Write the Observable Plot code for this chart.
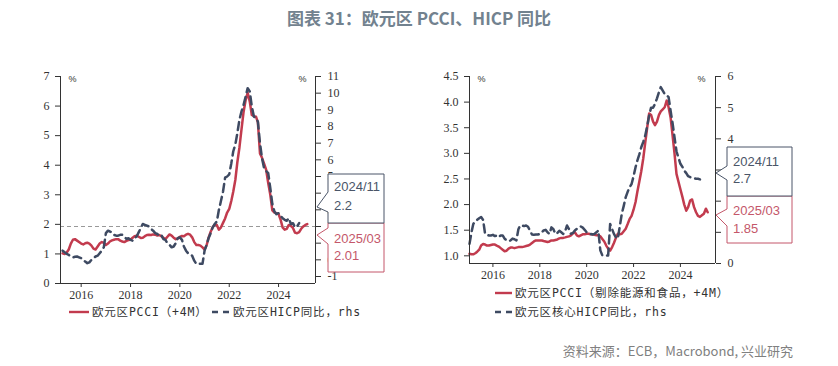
<!DOCTYPE html>
<html><head><meta charset="utf-8">
<script src="https://cdn.jsdelivr.net/npm/d3@7"></script>
<script src="https://cdn.jsdelivr.net/npm/@observablehq/plot@0.6"></script>
<style>
body{margin:0;background:#fff;}
#wrap{position:relative;width:838px;height:366px;overflow:hidden;background:#fff;}
#title{position:absolute;left:0;top:6px;width:838px;text-align:center;font-family:"Noto Sans CJK SC";font-weight:700;font-size:17px;color:#72828f;line-height:24px;}
.chart{position:absolute;top:50px;}
.lg{position:absolute;font-family:"DejaVu Sans Mono","Noto Sans CJK SC";font-size:11.5px;letter-spacing:0.8px;color:#333;white-space:nowrap;line-height:16px;display:flex;align-items:center;}
.lg svg{margin-right:3px;}
#source{position:absolute;right:45px;top:341px;font-family:"Noto Sans CJK SC";font-size:13px;color:#808080;line-height:20px;}
</style></head>
<body>
<div id="wrap">
  <div id="title">图表 31：欧元区 PCCI、HICP 同比</div>
  <div id="c1" class="chart" style="left:0px"></div>
  <div id="c2" class="chart" style="left:410px"></div>
  <div id="source">资料来源：ECB，Macrobond, 兴业研究</div>
</div>
<script>
// ---------- DATA ----------
// Left chart: Euro area PCCI (+4M), monthly from 2015-04 (left axis, %)
const pcciStart = [2015, 4];
const pcci = [
  1.02,1.00,1.05,1.15,1.35,1.48,1.50,1.45,1.40,
  1.35,1.32,1.36,1.38,1.35,1.28,1.18,1.15,1.25,1.35,1.40,1.38,
  1.30,1.35,1.42,1.46,1.48,1.50,1.50,1.45,1.42,1.40,1.44,1.47,
  1.48,1.55,1.60,1.62,1.58,1.54,1.55,1.60,1.64,1.65,1.64,1.66,
  1.65,1.62,1.64,1.60,1.55,1.50,1.58,1.66,1.62,1.55,1.50,1.52,
  1.58,1.61,1.60,1.65,1.68,1.65,1.56,1.40,1.30,1.30,1.28,1.22,
  1.15,1.30,1.55,1.75,1.90,2.00,1.98,1.82,1.90,2.05,2.20,2.40,
  2.52,2.80,3.10,3.50,4.10,4.60,5.20,5.80,6.20,6.45,6.15,5.70,
  5.66,5.64,5.45,4.40,4.25,4.05,3.85,3.40,3.00,2.47,2.40,2.38,
  2.35,2.15,1.90,1.82,1.85,1.98,1.95,1.88,1.72,1.70,1.74,1.85,
  1.93,1.98,2.01
];
// Left chart: Euro area HICP yoy, monthly from 2015-04 (right axis, %)
const hicpStart = [2015, 4];
const hicp = [
  0.55,0.45,0.36,0.30,0.20,0.15,0.18,0.20,0.15,
  0.10,-0.04,-0.10,-0.20,-0.15,0.00,0.09,0.20,0.25,0.40,0.55,0.75,
  1.60,1.75,1.70,1.65,1.50,1.45,1.45,1.50,1.50,1.40,1.25,1.30,
  1.20,1.15,1.30,1.40,1.65,1.90,2.15,2.10,2.05,2.00,1.85,1.75,
  1.60,1.55,1.45,1.50,1.25,1.20,1.00,0.90,0.75,0.80,1.00,1.30,
  1.35,1.20,0.80,0.55,0.40,0.30,0.25,-0.05,-0.24,-0.24,-0.24,-0.24,
  0.55,0.90,1.30,1.60,1.95,2.15,2.30,3.00,3.54,4.10,4.93,5.00,
  5.13,5.80,6.50,6.92,7.60,8.41,8.90,9.30,9.80,10.30,10.10,9.20,
  8.60,8.50,8.30,7.00,6.10,5.50,5.33,5.20,4.30,3.34,2.90,2.74,
  2.80,2.64,2.50,2.40,2.34,2.50,2.15,2.20,1.95,2.00,2.20
];
// Right chart: Euro area core PCCI (ex energy & food, +4M), monthly from 2015-01 (left axis)
const corePcciStart = [2015, 1];
const corePcci = [
  1.04,1.03,1.03,1.05,1.08,1.12,1.20,1.23,1.22,1.20,1.20,1.21,
  1.22,1.22,1.20,1.18,1.15,1.12,1.09,1.10,1.14,1.16,1.16,1.15,
  1.16,1.17,1.17,1.17,1.18,1.19,1.20,1.22,1.25,1.28,1.30,1.30,
  1.30,1.30,1.29,1.28,1.27,1.28,1.30,1.30,1.31,1.32,1.34,1.35,
  1.35,1.36,1.37,1.38,1.40,1.44,1.46,1.40,1.38,1.40,1.42,1.42,
  1.43,1.43,1.42,1.42,1.41,1.40,1.40,1.38,1.33,1.28,1.20,1.14,
  1.10,1.17,1.25,1.35,1.43,1.42,1.43,1.48,1.53,1.62,1.72,1.78,
  1.90,2.05,2.25,2.45,2.65,2.90,3.20,3.50,3.78,3.75,3.62,3.55,
  3.62,3.75,3.82,3.86,3.90,4.03,3.90,3.70,3.35,3.00,2.60,2.45,
  2.30,2.15,2.00,1.88,1.95,2.08,2.10,1.95,1.85,1.78,1.76,1.79,
  1.82,1.92,1.85
];
// Right chart: Euro area core HICP yoy, monthly from 2015-01 (right axis)
const coreHicpStart = [2015, 1];
const coreHicp = [
  0.63,1.00,1.27,1.35,1.40,1.45,1.49,1.40,0.95,0.92,0.90,0.90,
  0.92,0.88,0.90,0.85,0.90,0.90,0.80,0.74,0.72,0.74,0.80,0.78,
  0.74,1.10,1.22,1.22,1.20,1.22,1.18,1.05,0.93,0.92,0.93,0.93,
  0.95,1.00,1.06,1.08,1.00,0.95,1.16,1.10,0.95,0.98,1.05,1.00,
  0.95,1.05,1.22,1.10,0.95,0.98,1.06,1.11,1.16,1.19,1.15,1.08,
  1.00,0.98,0.95,0.93,0.95,1.00,1.06,0.42,0.26,0.26,0.26,0.26,
  1.27,1.10,0.95,0.84,0.80,1.20,1.59,1.85,2.13,2.30,2.45,2.55,
  2.80,3.09,3.30,3.50,3.73,3.90,4.10,4.40,4.75,5.00,5.00,5.12,
  5.30,5.50,5.66,5.55,5.44,5.40,5.34,4.90,4.50,4.05,3.60,3.40,
  3.20,3.10,2.98,2.90,2.80,2.77,2.75,2.73,2.72,2.72,2.70
];
// Axis ticks
const leftTicks1 = [0,1,2,3,4,5,6,7];
const rightTicks1 = [-1,0,1,2,3,4,5,6,7,8,9,10,11];
const leftTicks2 = [1.0,1.5,2.0,2.5,3.0,3.5,4.0,4.5];
const rightTicks2 = [0,1,2,3,4,5,6];
// Callout labels
const callouts1 = [
  {label: "2025/03", value: "2.01"},
  {label: "2024/11", value: "2.2"}
];
const callouts2 = [
  {label: "2025/03", value: "1.85"},
  {label: "2024/11", value: "2.7"}
];
const legend1 = ["欧元区PCCI（+4M）", "欧元区HICP同比，rhs"];
const legend2 = ["欧元区PCCI（剔除能源和食品，+4M）", "欧元区核心HICP同比，rhs"];

// ---------- HELPERS ----------
const RED = "#c23b4e", NAVY = "#3e4a62", BOX1 = "#4a5568", BOX2 = "#c4576a";
const monthly = (start, vals) => vals.map((v, i) => ({date: new Date(Date.UTC(start[0], start[1] - 1 + i, 1)), v}));

// left chart dual-axis mapping
const toL1 = r => (r + 1.42) * 7 / 12.42;
const fromL1 = v => v * 12.42 / 7 - 1.42;
// right chart dual-axis mapping
const toL2 = r => 0.85 + r * 3.65 / 6;
const fromL2 = v => (v - 0.85) * 6 / 3.65;

const axisStyle = {fontFamily: "Liberation Serif", fontSize: "12px", color: "#333", background: "transparent", overflow: "visible"};

function callout(svg, o, color, lines) {
  const g = d3.select(svg).append("g").attr("text-anchor", "start");
  g.append("path")
    .attr("d", `M${o.x0},${o.y0}H${o.x1}V${o.y1}H${o.x0}V${o.pDown}L${o.tx},${o.ty}L${o.x0},${o.pUp}Z`)
    .attr("fill", "#fff").attr("stroke", color).attr("stroke-width", 1);
  lines.forEach((t, i) => {
    g.append("text").attr("x", o.x0 + 6).attr("y", o.ly[i])
      .attr("text-anchor", "start")
      .attr("dominant-baseline", "middle")
      .attr("font-family", "Liberation Sans").attr("font-size", 13)
      .attr("fill", color).text(t);
  });
}

// ---------- LEFT CHART ----------
{
  const xd = [new Date(Date.UTC(2015, 2, 1)), new Date(Date.UTC(2025, 6, 1))];
  const chart = Plot.plot({
    width: 400, height: 255,
    marginLeft: 60, marginRight: 85, marginTop: 26, marginBottom: 22,
    style: axisStyle,
    x: {type: "utc", domain: xd},
    y: {domain: [0, 7]},
    marks: [
      Plot.ruleY([toL1(2)], {stroke: "#999", strokeDasharray: "4,3", strokeWidth: 1}),
      Plot.lineY(monthly(pcciStart, pcci), {x: "date", y: "v", stroke: RED, strokeWidth: 2.5}),
      Plot.lineY(monthly(hicpStart, hicp), {x: "date", y: d => toL1(d.v), stroke: NAVY, strokeWidth: 2.5, strokeDasharray: "8,5"}),
      Plot.ruleY([0], {stroke: "#333"}),
      Plot.ruleX(xd, {stroke: "#333"}),
      Plot.axisX({ticks: d3.utcYear.every(2), tickFormat: "%Y", tickSize: 4, tickPadding: 3, label: null, fontSize: 12}),
      Plot.axisY({anchor: "left", ticks: leftTicks1, tickFormat: d => String(d), tickSize: 5, tickPadding: 6, label: null, fontSize: 12}),
      Plot.axisY({anchor: "right", ticks: rightTicks1.map(toL1), tickFormat: d => String(Math.round(fromL1(d))), tickSize: 5, tickPadding: 7, label: null, fontSize: 12}),
      Plot.text(["%"], {frameAnchor: "top-left", dx: 8, dy: -1, fontSize: 9, fontFamily: "Liberation Sans", fill: "#333"}),
      Plot.text(["%"], {frameAnchor: "top-right", dx: -9, dy: -1, fontSize: 9, fontFamily: "Liberation Sans", fill: "#333"})
    ]
  });
  document.getElementById("c1").appendChild(chart);
  callout(chart, {x0: 328, x1: 384, y0: 173, y1: 222, tx: 317, ty: 185, pUp: 178, pDown: 194, ly: [190, 207]}, BOX2, [callouts1[0].label, callouts1[0].value]);
  callout(chart, {x0: 328, x1: 384, y0: 124, y1: 173, tx: 317, ty: 157, pUp: 142, pDown: 162, ly: [138, 157]}, BOX1, [callouts1[1].label, callouts1[1].value]);
}

// ---------- RIGHT CHART ----------
{
  const xd = [new Date(Date.UTC(2015, 0, 1)), new Date(Date.UTC(2025, 6, 1))];
  const chart = Plot.plot({
    width: 400, height: 235,
    marginLeft: 59, marginRight: 95, marginTop: 26, marginBottom: 22,
    style: axisStyle,
    x: {type: "utc", domain: xd},
    y: {domain: [0.85, 4.5]},
    marks: [
      Plot.lineY(monthly(corePcciStart, corePcci), {x: "date", y: "v", stroke: RED, strokeWidth: 2.5}),
      Plot.lineY(monthly(coreHicpStart, coreHicp), {x: "date", y: d => toL2(d.v), stroke: NAVY, strokeWidth: 2.5, strokeDasharray: "8,5"}),
      Plot.ruleY([0.85], {stroke: "#333"}),
      Plot.ruleX(xd, {stroke: "#333"}),
      Plot.axisX({ticks: d3.utcYear.every(2), tickFormat: "%Y", tickSize: 4, tickPadding: 3, label: null, fontSize: 12}),
      Plot.axisY({anchor: "left", ticks: leftTicks2, tickFormat: d3.format(".1f"), tickSize: 5, tickPadding: 6, label: null, fontSize: 12}),
      Plot.axisY({anchor: "right", ticks: rightTicks2.map(toL2), tickFormat: d => String(Math.round(fromL2(d))), tickSize: 5, tickPadding: 7, label: null, fontSize: 12}),
      Plot.text(["%"], {frameAnchor: "top-left", dx: 8, dy: -1, fontSize: 9, fontFamily: "Liberation Sans", fill: "#333"}),
      Plot.text(["%"], {frameAnchor: "top-right", dx: -10, dy: -1, fontSize: 9, fontFamily: "Liberation Sans", fill: "#333"})
    ]
  });
  document.getElementById("c2").appendChild(chart);
  callout(chart, {x0: 317, x1: 382, y0: 146, y1: 193, tx: 306, ty: 165, pUp: 159, pDown: 176, ly: [162, 180]}, BOX2, [callouts2[0].label, callouts2[0].value]);
  callout(chart, {x0: 317, x1: 382, y0: 97, y1: 146, tx: 306, ty: 123, pUp: 116, pDown: 130, ly: [113, 130]}, BOX1, [callouts2[1].label, callouts2[1].value]);
}

// ---------- LEGENDS ----------
function legendItem(left, top, text, color, dashed, swW) {
  const div = document.createElement("div");
  div.className = "lg";
  div.style.left = left + "px";
  div.style.top = (top - 8) + "px";
  div.innerHTML = `<svg width="${swW}" height="6"><line x1="0" y1="3" x2="${swW}" y2="3" stroke="${color}" stroke-width="2.4" ${dashed ? 'stroke-dasharray="6,5"' : ''}/></svg><span>${text}</span>`;
  document.getElementById("wrap").appendChild(div);
}
legendItem(69, 312, legend1[0], RED, false, 20);
legendItem(212, 312, legend1[1], NAVY, true, 18);
legendItem(495, 293, legend2[0], RED, false, 17);
legendItem(495, 312, legend2[1], NAVY, true, 17);
</script>
</body></html>
